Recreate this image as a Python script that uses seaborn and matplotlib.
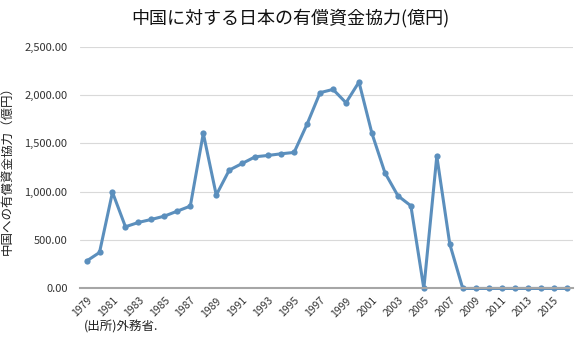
import pandas as pd
import matplotlib
matplotlib.use("Agg")
import matplotlib.pyplot as plt
from matplotlib.ticker import FuncFormatter
import seaborn as sns

# ---- data (億円) ----
years = list(range(1979, 2017))
loans = [283, 372, 995, 638, 683, 714, 748, 800, 852, 1604,
         966, 1224, 1293, 1362, 1376, 1393, 1407, 1700, 2025, 2059,
         1921, 2135, 1604, 1197, 959, 855, 0, 1369, 459, 0,
         0, 0, 0, 0, 0, 0, 0, 0]
tick_years = list(range(1979, 2016, 2))

TITLE = "中国に対する日本の有償資金協力(億円)"
YLABEL = "中国への有償資金協力（億円）"
SOURCE = "(出所)外務省."

df = pd.DataFrame({"year": years, "loan": loans})

sns.set_style("white")
plt.rcParams["font.family"] = ["Noto Sans CJK JP", "DejaVu Sans"]

fig = plt.figure(figsize=(5.8, 3.57), dpi=100)
ax = fig.add_axes([0.138, 0.192, 0.85, 0.677])

line_color = "#5b8fbd"
sns.lineplot(data=df, x="year", y="loan", ax=ax, color=line_color,
             linewidth=2.2, marker="o", markersize=4.5,
             markeredgewidth=0, clip_on=False)

ax.set_xlim(1978.5, 2016.5)
ax.set_ylim(0, 2500)
ax.set_yticks(range(0, 2501, 500))
ax.yaxis.set_major_formatter(FuncFormatter(lambda v, p: f"{v:,.2f}"))
ax.set_xticks(tick_years)
ax.set_xticklabels([str(y) for y in tick_years], rotation=45,
                   ha="right", rotation_mode="anchor")
ax.tick_params(axis="both", length=0, colors="#333333")
ax.tick_params(axis="x", labelsize=7.5, pad=5)
ax.tick_params(axis="y", labelsize=8, pad=9)

ax.grid(axis="y", color="#d9d9d9", linewidth=0.8)
for s in ["top", "right", "left"]:
    ax.spines[s].set_visible(False)
ax.spines["bottom"].set_color("#a6a6a6")
ax.spines["bottom"].set_linewidth(1.5)
ax.set_axisbelow(True)

ax.set_xlabel("")
ax.set_ylabel(YLABEL, fontsize=9, color="#222222")
ax.yaxis.set_label_coords(-0.135, 0.5)

fig.text(0.5, 0.95, TITLE, ha="center", va="center", fontsize=13,
         color="#111111")
fig.text(0.145, 0.085, SOURCE, ha="left", va="center", fontsize=9,
         color="#222222")

fig.savefig("out.png", dpi=100)
